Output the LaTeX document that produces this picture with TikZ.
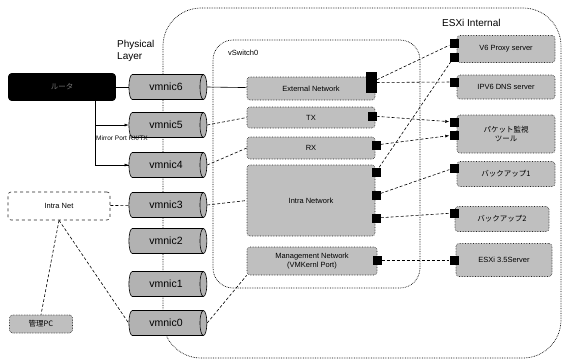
\documentclass[tikz,border=0pt]{standalone}
\usepackage{fontspec}
\setmainfont{Liberation Sans}
\newfontfamily\jp{Noto Sans CJK JP}
\usetikzlibrary{shapes.geometric,arrows.meta}

\begin{document}
\begin{tikzpicture}[x=1pt,y=-1pt,
  box/.style={draw=black!85,densely dotted,line width=0.6pt,fill=black!25,rounded corners=3pt,inner sep=1pt,align=center,font=\fontsize{7.5}{9}\selectfont},
  nic/.style={cylinder,draw=black,fill=black!30,line width=0.6pt,shape border rotate=0,aspect=0.9,minimum height=78pt,minimum width=25pt,inner sep=0pt,font=\fontsize{10.5}{12}\selectfont},
  port/.style={fill=black,inner sep=0pt,minimum size=9pt},
  link/.style={densely dashed,line width=0.6pt,black}]
\useasboundingbox (0,0) rectangle (563,360);
% ESXi host and vSwitch0 areas
\draw[densely dotted,line width=0.7pt,rounded corners=38pt] (163,200) -- (163,8) -- (561,8) -- (561,358) -- (163,358) -- cycle;
\draw[densely dotted,line width=0.7pt,rounded corners=20pt] (213,40) rectangle (420,288);
\node[anchor=west,inner sep=0,font=\fontsize{10}{12}\selectfont] (esxi) at (442,23) {ESXi Internal};
\node[anchor=west,inner sep=0,font=\fontsize{7.5}{9}\selectfont] (vsw) at (228,53) {vSwitch0};
\node[anchor=north west,align=left,inner sep=0,font=\fontsize{10}{12}\selectfont] (phys) at (117,40) {Physical\\Layer};
% outside
\node[box,fill=black,draw=black,solid,text=black!55,minimum width=107pt,minimum height=27pt] (router) at (62,87) {\jp ルータ};
\node[box,fill=white,dashed,minimum width=102pt,minimum height=28pt] (intra) at (59,206) {Intra Net};
\node[box,minimum width=63pt,minimum height=18pt] (pc) at (41,324) {\jp 管理PC};
% physical nics
\foreach \n/\y in {6/87,5/125,4/165,3/205,2/241,1/284,0/323}
  \node[nic] (vmnic\n) at (166,\y) {vmnic\n};
\node[inner sep=0,font=\fontsize{6.5}{8}\selectfont] (mirror) at (122,138) {Mirror Port RX/TX};
% port groups
\node[box,minimum width=128pt,minimum height=23pt] (ext) at (311,88.5) {External Network};
\node[box,minimum width=128pt,minimum height=21pt] (tx) at (311,117.5) {TX};
\node[box,minimum width=128pt,minimum height=22pt] (rx) at (311,148) {RX};
\node[box,minimum width=128pt,minimum height=71pt] (intranw) at (311,200.5) {Intra Network};
\node[box,minimum width=130pt,minimum height=28pt] (mgmt) at (312,261) {Management Network\\(VMKernl Port)};
% virtual machines
\node[box,minimum width=98pt,minimum height=27pt] (v6) at (506,49) {V6 Proxy server};
\node[box,minimum width=98pt,minimum height=24pt] (dns) at (506,87) {IPV6 DNS server};
\node[box,minimum width=98pt,minimum height=38pt] (pkt) at (506,134) {\jp パケット監視\\\jp ツール};
\node[box,minimum width=98pt,minimum height=25pt] (bk1) at (506,174) {\jp バックアップ1};
\node[box,minimum width=94pt,minimum height=25pt] (bk2) at (502,219) {\jp バックアップ2};
\node[box,minimum width=96pt,minimum height=33pt] (esx) at (504,260) {ESXi 3.5Server};
% ports
\node[port,minimum width=11pt,minimum height=21pt] (extp) at (371,82.5) {};
\node[port] (txp) at (372,116) {};
\node[port] (rxp) at (376,145) {};
\node[port] (inp1) at (376,172) {};
\node[port] (inp2) at (376,195) {};
\node[port] (inp3) at (376,218) {};
\node[port] (mgp) at (377,260) {};
\node[port] (v6pa) at (454,43) {};
\node[port] (v6pb) at (454,57) {};
\node[port] (dnsp) at (454,82) {};
\node[port] (pktpa) at (454,122) {};
\node[port] (pktpb) at (454,135) {};
\node[port] (bk1p) at (454,168) {};
\node[port] (bk2p) at (454,213) {};
\node[port] (esxp) at (454,260) {};
% connections
\coordinate (tap) at (95,100);
\draw[line width=0.6pt] (router) -- (vmnic6);
\draw[line width=0.6pt] (tap) |- (vmnic4.west);
\draw[line width=0.6pt,-{Latex[length=4pt]}] (tap |- vmnic5) -- (vmnic5.west);
\draw[line width=0.6pt,-{Latex[length=4pt]}] (tap |- vmnic4) -- (vmnic4.west);
\draw[link] (intra) -- (vmnic3);
\draw[link] (intra.south) -- (pc.north);
\draw[link] (intra.south) -- (vmnic0.west);
\draw[line width=0.6pt] (vmnic6.east) -- (ext);
\draw[link] (vmnic5.east) -- (tx.west);
\draw[link] (vmnic4.east) -- (rx.west);
\draw[link] (vmnic3.east) -- (intranw.west);
\draw[link] (vmnic0.east) -- (mgmt.south west);
\draw[link] (extp) -- (v6pa);
\draw[link] (extp) -- (dnsp);
\draw[link,-{Latex[length=4pt]}] (txp) -- (pktpa);
\draw[link,-{Latex[length=4pt]}] (rxp) -- (pktpb);
\draw[link] (inp1) -- (v6pb);
\draw[link] (inp2) -- (bk1p);
\draw[link] (inp3) -- (bk2p);
\draw[link] (mgp) -- (esxp);
\end{tikzpicture}
\end{document}
